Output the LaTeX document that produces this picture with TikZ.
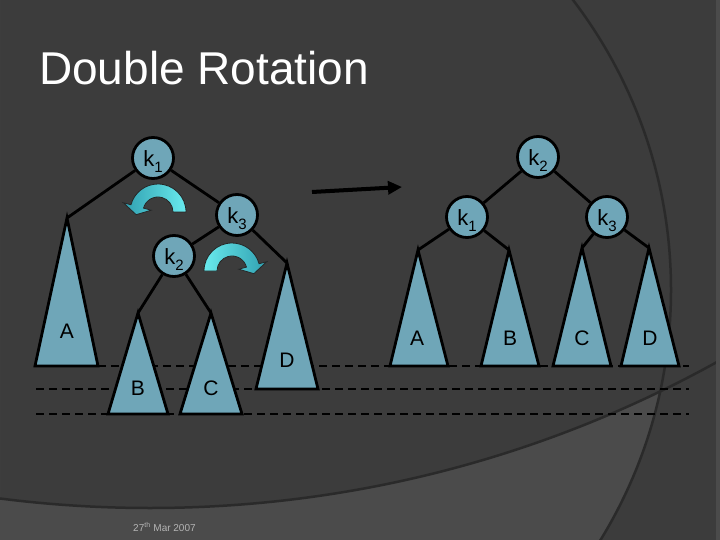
\documentclass[tikz,border=0pt]{standalone}
\usepackage{fontspec}
\setmainfont{Liberation Sans}
\usetikzlibrary{arrows.meta}
\definecolor{bg}{HTML}{3C3C3C}
\definecolor{bglight}{HTML}{4B4B4B}
\definecolor{curvecol}{HTML}{2A2A2A}
\definecolor{nodefill}{RGB}{111,166,184}
\definecolor{cyanL}{RGB}{105,234,238}
\definecolor{cyanD}{RGB}{48,160,176}
\definecolor{dategray}{HTML}{B4B4B4}
\newcommand\ksub[2]{#1\raisebox{-6pt}{\fontsize{15}{15}\selectfont #2}}
\begin{document}
\begin{tikzpicture}[x=1pt,y=-1pt,
  knode/.style={circle, fill=nodefill, draw=black, line width=2.8pt, minimum size=41pt, inner sep=0pt,
    font=\fontsize{22}{22}\selectfont, text height=17pt, text depth=0pt},
  edge/.style={draw=black, line width=2.8pt},
  tri/.style={fill=nodefill, draw=black, line width=2.8pt, line join=miter},
  lbl/.style={font=\fontsize{21}{21}\selectfont, text=black, inner sep=0pt},
  dashline/.style={draw=black, line width=2.4pt, dash pattern=on 8pt off 5pt},
  rotarrow/.style={draw=black!85, line width=0.8pt},
  bgcurve/.style={draw=curvecol, line width=2.5pt}]
\useasboundingbox (0,0) rectangle (720,540);
% background
\fill[bg] (0,0) rectangle (720,540);
\begin{scope}
  \clip (0,0) rectangle (720,540);
  \begin{scope}
    \clip (193,290) circle[radius=478pt];
    \fill[bglight, even odd rule] (0,0) rectangle (720,540) (150,-664) circle[radius=1172pt];
  \end{scope}
  \draw[bgcurve] (193,290) circle[radius=478pt];
  \draw[bgcurve] (150,-664) circle[radius=1172pt];
  \fill[bglight] (716,0) rectangle (720,540);
\end{scope}
% title
\node[anchor=base west, text=white, font=\fontsize{46}{46}\selectfont, inner sep=0pt] (title) at (39,85) {Double Rotation};
% dashed guide lines
\coordinate (d1s) at (98,366);  \coordinate (d1e) at (689,366);
\coordinate (d2s) at (36,389);  \coordinate (d2e) at (689,389);
\coordinate (d3s) at (36,414);  \coordinate (d3e) at (689,414);
\draw[dashline] (d1s) -- (d1e);
\draw[dashline] (d2s) -- (d2e);
\draw[dashline] (d3s) -- (d3e);
% left tree nodes
\node[knode] (Lk1) at (153,158) {\ksub{k}{1}};
\node[knode] (Lk3) at (237,215) {\ksub{k}{3}};
\node[knode] (Lk2) at (174,256) {\ksub{k}{2}};
% left apexes
\coordinate (LaA) at (67,218);
\coordinate (LaD) at (287,263);
\coordinate (LaB) at (138,313);
\coordinate (LaC) at (211,313);
% right tree nodes
\node[knode] (Rk2) at (538,157) {\ksub{k}{2}};
\node[knode] (Rk1) at (467,217) {\ksub{k}{1}};
\node[knode] (Rk3) at (607,217) {\ksub{k}{3}};
\coordinate (RaA) at (418,250);
\coordinate (RaB) at (509,250);
\coordinate (RaC) at (582,248);
\coordinate (RaD) at (649,248);
% edges
\draw[edge] (Lk1) -- (LaA);
\draw[edge] (Lk1) -- (Lk3);
\draw[edge] (Lk3) -- (Lk2);
\draw[edge] (Lk3) -- (LaD);
\draw[edge] (Lk2) -- (LaB);
\draw[edge] (Lk2) -- (LaC);
\draw[edge] (Rk2) -- (Rk1);
\draw[edge] (Rk2) -- (Rk3);
\draw[edge] (Rk1) -- (RaA);
\draw[edge] (Rk1) -- (RaB);
\draw[edge] (Rk3) -- (RaC);
\draw[edge] (Rk3) -- (RaD);
% triangles
\draw[tri] (LaA) -- (98,366) -- (35,366) -- cycle;
\draw[tri] (LaD) -- (318,389) -- (256,389) -- cycle;
\draw[tri] (LaB) -- (168,414) -- (108,414) -- cycle;
\draw[tri] (LaC) -- (242,414) -- (180,414) -- cycle;
\draw[tri] (RaA) -- (448,366) -- (390,366) -- cycle;
\draw[tri] (RaB) -- (539,366) -- (481,366) -- cycle;
\draw[tri] (RaC) -- (611,366) -- (553,366) -- cycle;
\draw[tri] (RaD) -- (679,366) -- (621,366) -- cycle;
% triangle labels
\node[lbl] (LlA) at (67,331) {A};
\node[lbl] (LlD) at (287,360) {D};
\node[lbl] (LlB) at (138,388) {B};
\node[lbl] (LlC) at (211,388) {C};
\node[lbl] (RlA) at (417,338) {A};
\node[lbl] (RlB) at (510,338) {B};
\node[lbl] (RlC) at (582,338) {C};
\node[lbl] (RlD) at (650,338) {D};
% main arrow
\coordinate (ms) at (312,192);
\coordinate (me) at (402,187);
\draw[line width=4pt, -{Triangle[length=14pt,width=13pt]}] (ms) -- (me);
% rotation arrows
\begin{scope}[shift={(158,212)}]
  \path[rotarrow, left color=cyanD, right color=cyanL]
    (0:15pt) -- (0:28pt) arc[start angle=0,end angle=165,radius=28pt]
    -- (165:36pt) -- (187:22pt) -- (165:7pt) -- (165:15pt)
    arc[start angle=165,end angle=0,radius=15pt] -- cycle;
\end{scope}
\begin{scope}[shift={(232,271)}]
  \path[rotarrow, left color=cyanL, right color=cyanD]
    (180:15pt) -- (180:28pt) arc[start angle=180,end angle=15,radius=28pt]
    -- (15:36pt) -- (-7:22pt) -- (15:7pt) -- (15:15pt)
    arc[start angle=15,end angle=180,radius=15pt] -- cycle;
\end{scope}
% date
\node[anchor=base west, text=dategray, font=\fontsize{10}{10}\selectfont, inner sep=0pt] (date) at (133,531) {27\textsuperscript{th} Mar 2007};
\end{tikzpicture}
\end{document}
